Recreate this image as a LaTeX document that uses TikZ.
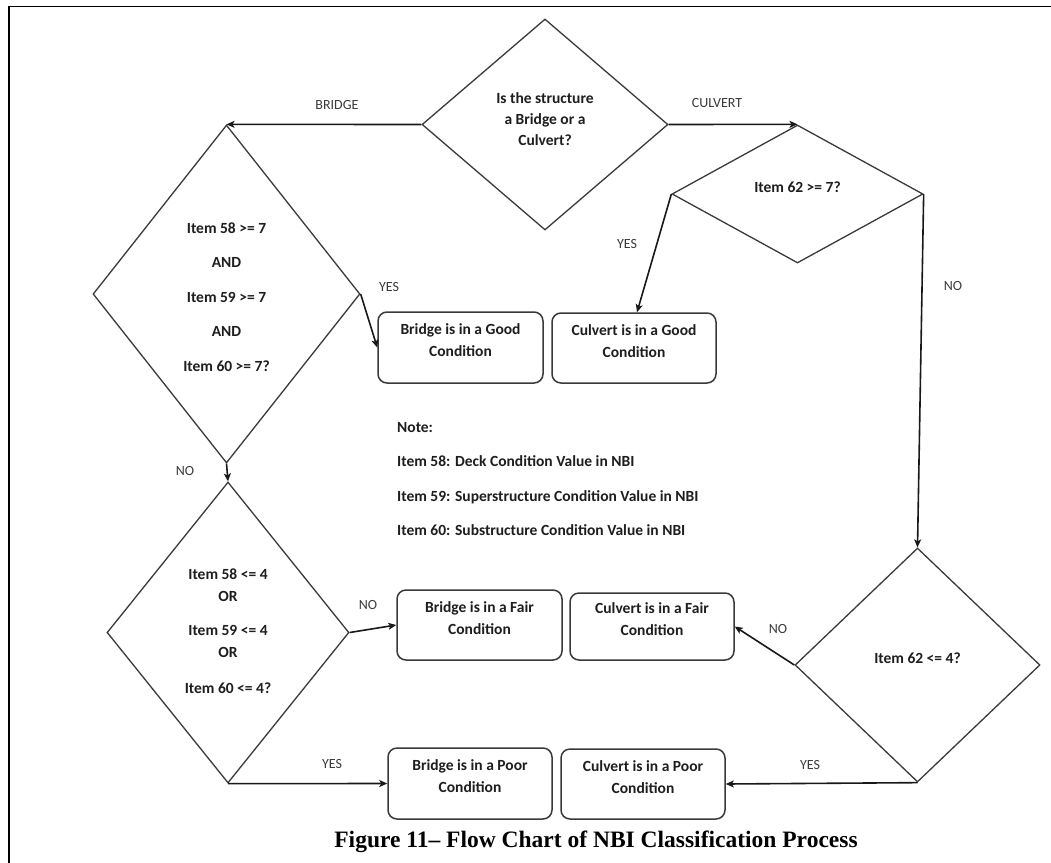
\documentclass[tikz,border=0pt]{standalone}
\usepackage{fontspec}
\setmainfont{Carlito}
\newfontfamily\capfont{Liberation Serif}
\usetikzlibrary{shapes.geometric,arrows.meta}
\definecolor{linecol}{HTML}{3A3A3A}
\definecolor{txtcol}{HTML}{1E1E1E}
\begin{document}
\begin{tikzpicture}[x=1pt,y=-1pt,
  dia/.style={diamond, draw=linecol, line width=1.3pt, inner sep=0pt},
  box/.style={rectangle, rounded corners=9pt, draw=linecol, line width=1.5pt,
    inner sep=2pt, align=center, text=txtcol, text depth=14pt,
    font=\bfseries\fontsize{15.5}{22}\selectfont},
  dtext/.style={align=center, text=txtcol, inner sep=0pt},
  lbl/.style={anchor=base, inner sep=0pt, text=linecol, font=\fontsize{14}{16}\selectfont},
  notetxt/.style={anchor=base west, inner sep=0pt, text=txtcol, font=\bfseries\fontsize{15.5}{18}\selectfont},
  arr/.style={draw=black!90, line width=1.6pt, -{Stealth[length=8pt,width=7pt,inset=2pt]}}]
\useasboundingbox (0,0) rectangle (1051,862);
\fill[white] (0,0) rectangle (1051,862);
\draw[line width=1.6pt, black] (9,870) -- (9,6.5) -- (1060,6.5);

% diamonds
\node[dia, minimum width=246, minimum height=211] (d1) at (545,124.5) {};
\node[dia, minimum width=267, minimum height=338] (d2) at (226.5,294) {};
\node[dia, minimum width=242, minimum height=301] (d3) at (228,632.5) {};
\node[dia, minimum width=251, minimum height=138] (d4) at (797.5,194) {};
\node[dia, minimum width=245, minimum height=234] (d5) at (917.5,665) {};

% diamond texts
\node[dtext, font=\bfseries\fontsize{15.5}{21}\selectfont] (t1) at (545,119)
  {Is the structure\\a Bridge or a\\Culvert?};
\node[dtext, font=\bfseries\fontsize{15.5}{34.5}\selectfont] (t2) at (226.5,297)
  {Item 58 >= 7\\AND\\Item 59 >= 7\\AND\\Item 60 >= 7?};
\node[dtext, font=\bfseries\fontsize{15.5}{21.5}\selectfont] (t3) at (228,631)
  {Item 58 <= 4\\OR\\[13pt]Item 59 <= 4\\OR\\[14.5pt]Item 60 <= 4?};
\node[dtext, anchor=base, font=\bfseries\fontsize{15.5}{18}\selectfont] (t4) at (797.5,192)
  {Item 62 >= 7?};
\node[dtext, anchor=base, font=\bfseries\fontsize{15.5}{18}\selectfont] (t5) at (917.5,663)
  {Item 62 <= 4?};

% result boxes
\node[box, minimum width=165, minimum height=71] (bg) at (460.5,347.5) {Bridge is in a Good\\Condition};
\node[box, minimum width=164, minimum height=70] (cg) at (634,348) {Culvert is in a Good\\Condition};
\node[box, minimum width=165, minimum height=70] (bf) at (479.5,625) {Bridge is in a Fair\\Condition};
\node[box, minimum width=164, minimum height=67] (cf) at (652,626.5) {Culvert is in a Fair\\Condition};
\node[box, minimum width=164, minimum height=71] (bp) at (470,783.5) {Bridge is in a Poor\\Condition};
\node[box, minimum width=164, minimum height=70] (cp) at (643,784) {Culvert is in a Poor\\Condition};

% connectors
\draw[arr] (d1.west) -- (d2.north);
\draw[arr] (d1.east) -- (d4.north);
\draw[arr] (d2.east) -- (bg.west);
\draw[arr] (d4.west) -- ([xshift=3pt]cg.north);
\draw[arr] (d4.east) -- (d5.north);
\draw[arr] (d2.south) -- (d3.north);
\draw[arr] (d3.east) -- (bf.west);
\draw[arr] (d3.south) -- (bp.west);
\draw[arr] (d5.west) -- (cf.east);
\draw[arr] (d5.south) -- (cp.east);

% connector labels
\node[lbl] (l1) at (337,109) {BRIDGE};
\node[lbl] (l2) at (717,107) {CULVERT};
\node[lbl] (l3) at (389,291) {YES};
\node[lbl] (l4) at (627,248) {YES};
\node[lbl] (l5) at (953,290) {NO};
\node[lbl] (l6) at (185,475) {NO};
\node[lbl] (l7) at (368,609) {NO};
\node[lbl] (l8) at (332,768) {YES};
\node[lbl] (l9) at (778,633) {NO};
\node[lbl] (l10) at (810,769) {YES};

% note
\node[notetxt] (n0) at (397,432) {Note:};
\node[notetxt] (n1) at (397,466) {Item 58: Deck Condition Value in NBI};
\node[notetxt] (n2) at (397,501) {Item 59: Superstructure Condition Value in NBI};
\node[notetxt] (n3) at (397,535) {Item 60: Substructure Condition Value in NBI};

% caption
\node[anchor=base, inner sep=0pt, font=\capfont\bfseries\fontsize{23.5}{28}\selectfont] (cap) at (596,847)
  {Figure 11– Flow Chart of NBI Classification Process};
\end{tikzpicture}
\end{document}
